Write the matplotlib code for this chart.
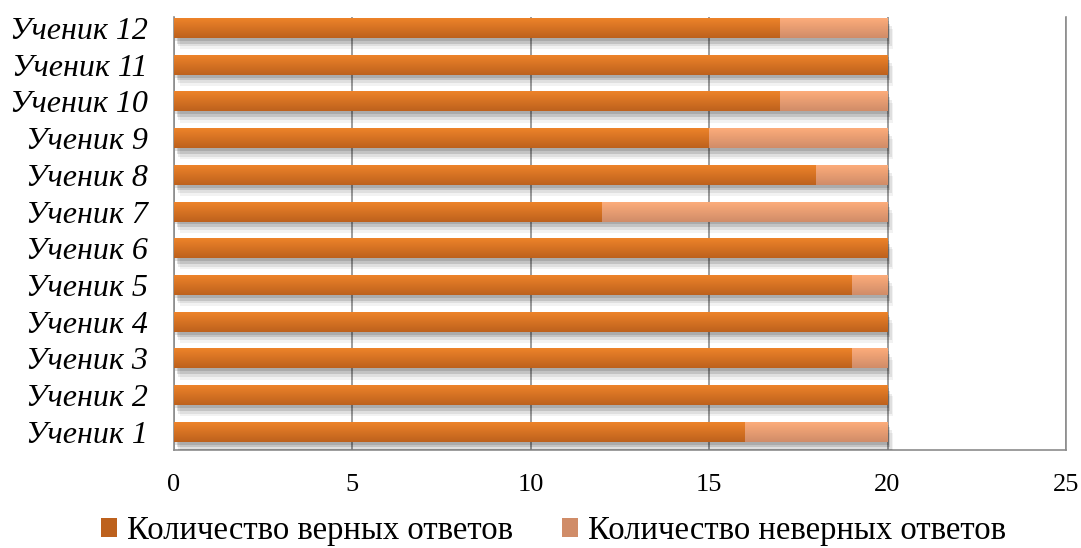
import numpy as np
import matplotlib.pyplot as plt
from matplotlib import patheffects as pe
from matplotlib.colors import LinearSegmentedColormap
from matplotlib.patches import Patch

plt.rcParams['font.family'] = ['Liberation Serif', 'DejaVu Serif']

students = ["Ученик 1", "Ученик 2", "Ученик 3", "Ученик 4", "Ученик 5", "Ученик 6",
            "Ученик 7", "Ученик 8", "Ученик 9", "Ученик 10", "Ученик 11", "Ученик 12"]
correct = [16, 20, 19, 20, 19, 20, 12, 18, 15, 17, 20, 17]
wrong = [4, 0, 1, 0, 1, 0, 8, 2, 5, 3, 0, 3]

label_correct = "Количество верных ответов"
label_wrong = "Количество неверных ответов"

dark_top, dark_bot = "#f0852a", "#bd611d"
light_top, light_bot = "#ffae7c", "#d08c68"

fig = plt.figure(figsize=(10.81, 5.48), dpi=100)
ax = fig.add_axes([0.161, 0.179, 0.825, 0.79])

y = np.arange(len(students))
bar_h = 0.545

# soft drop shadow below the bars
shadow = [pe.SimplePatchShadow(offset=(4, -8), shadow_rgbFace='k', alpha=0.05),
          pe.SimplePatchShadow(offset=(3, -6), shadow_rgbFace='k', alpha=0.08),
          pe.SimplePatchShadow(offset=(2, -4), shadow_rgbFace='k', alpha=0.12),
          pe.SimplePatchShadow(offset=(1, -2), shadow_rgbFace='k', alpha=0.12),
          pe.Normal()]

bars1 = ax.barh(y, correct, bar_h, color=dark_top, linewidth=0, zorder=3)
bars2 = ax.barh(y, wrong, bar_h, left=correct, color=light_top, linewidth=0, zorder=3)

# vertical gradient inside every bar
grad = np.linspace(0, 1, 64).reshape(-1, 1)
for bars, c_top, c_bot in [(bars1, dark_top, dark_bot), (bars2, light_top, light_bot)]:
    cmap = LinearSegmentedColormap.from_list("g", [c_top, c_bot])
    for p in bars:
        if p.get_width() <= 0:
            continue
        p.set_path_effects(shadow)
        x0, y0 = p.get_x(), p.get_y()
        im = ax.imshow(grad, cmap=cmap, aspect='auto', interpolation='bilinear',
                       extent=(x0, x0 + p.get_width(), y0, y0 + p.get_height()),
                       origin='upper', zorder=4)
        im.set_clip_path(p)

ax.set_xlim(0, 25)
ax.set_ylim(-0.49, 11.3)
ax.set_xticks([0, 5, 10, 15, 20, 25])
ax.set_yticks(y)
ax.set_yticklabels(students, fontstyle='italic', fontsize=23)
ax.tick_params(axis='x', labelsize=19, length=0, pad=17)
ax.tick_params(axis='y', length=0, pad=19)
ax.grid(axis='x', color='#8c8c8c', linewidth=1.2, zorder=1)
ax.set_axisbelow(True)
for s in ['left', 'bottom', 'right']:
    ax.spines[s].set_color('#8c8c8c')
    ax.spines[s].set_linewidth(1.2)
ax.spines['top'].set_visible(False)

handles = [Patch(facecolor=dark_bot, label=label_correct),
           Patch(facecolor=light_bot, label=label_wrong)]
fig.legend(handles=handles, loc='lower center', ncol=2, frameon=False,
           fontsize=23.5, bbox_to_anchor=(0.512, -0.05), handlelength=0.5,
           handleheight=0.5, handletextpad=0.3, columnspacing=1.5)

fig.savefig("out.png", dpi=100)
